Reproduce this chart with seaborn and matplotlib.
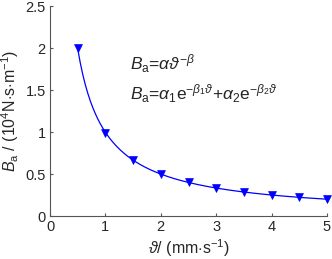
import numpy as np
import matplotlib
matplotlib.use("Agg")
import matplotlib.pyplot as plt
import seaborn as sns
import pandas as pd

speed = [0.5, 1.0, 1.5, 2.0, 2.5, 3.0, 3.5, 4.0, 4.5, 5.0]
damping = [2.0, 0.99, 0.665, 0.5, 0.4, 0.333, 0.285, 0.25, 0.222, 0.2]
x_ticks = [0, 1, 2, 3, 4, 5]
y_ticks = [0, 0.5, 1, 1.5, 2, 2.5]

sns.set_style("white")
plt.rcParams['font.family'] = ['Liberation Sans', 'DejaVu Sans']
plt.rcParams['mathtext.fontset'] = 'custom'
plt.rcParams['mathtext.rm'] = 'Liberation Sans'
plt.rcParams['mathtext.it'] = 'Liberation Sans:italic'
plt.rcParams['mathtext.bf'] = 'Liberation Sans:bold'

df = pd.DataFrame({"v": speed, "B": damping})

# power-law fit from the data
b, a = np.polyfit(np.log(speed), np.log(damping), 1)
xs = np.linspace(min(speed), max(speed), 200)
fit = pd.DataFrame({"v": xs, "B": np.exp(a) * xs ** b})

fig = plt.figure(figsize=(3.32, 2.59), dpi=100)
ax = fig.add_axes([50/332, 1-216/259, 277/332, 210/259])
blue = "#0000ff"
sns.lineplot(data=fit, x="v", y="B", ax=ax, color=blue, linewidth=0.9)
sns.scatterplot(data=df, x="v", y="B", ax=ax, color=blue, marker="v", s=32,
                edgecolor=blue, linewidth=0.5, zorder=3, clip_on=False)

ax.set_xlim(0, 5)
ax.set_ylim(0, 2.5)
ax.set_xticks(x_ticks)
ax.set_yticks(y_ticks)
ax.set_xticklabels([str(t) for t in x_ticks])
ax.set_yticklabels(["0", "0.5", "1", "1.5", "2", "2.5"])
for s in ["top", "right"]:
    ax.spines[s].set_visible(False)
for s in ["left", "bottom"]:
    ax.spines[s].set_color("#555555")
    ax.spines[s].set_linewidth(0.8)
ax.tick_params(axis="both", labelsize=10.5, direction="in", length=2.5,
               color="#555555", pad=3, bottom=True, left=True)
ax.set_xlabel(r"$\vartheta$/ (mm$\cdot$s$^{-1}$)", fontsize=11.5, labelpad=2)
ax.set_ylabel(r"$B_{\rm a}$ / (10$^4$N$\cdot$s$\cdot$m$^{-1}$)", fontsize=11.5, labelpad=3)

ax.text(1.44, 1.74, r"$B_{\rm a}$=$\alpha\vartheta^{-\beta}$", fontsize=12.5)
ax.text(1.44, 1.38, r"$B_{\rm a}$=$\alpha_1 {\rm e}^{-\beta_1\vartheta}$+$\alpha_2 {\rm e}^{-\beta_2\vartheta}$", fontsize=12.5)

fig.savefig("out.png", dpi=100)
